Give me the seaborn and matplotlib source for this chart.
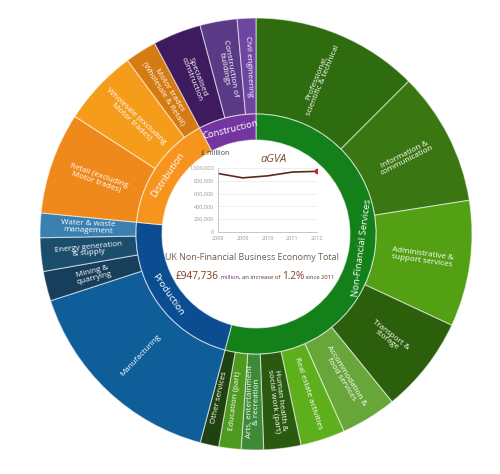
import numpy as np
import pandas as pd
import matplotlib
matplotlib.use("Agg")
import matplotlib.pyplot as plt
import seaborn as sns

sns.set_style("white")
plt.rcParams['font.family'] = ['Open Sans', 'DejaVu Sans']

# sector groups (inner ring), clockwise from 12 o'clock
groups = ["Non-Financial Services", "Production", "Distribution", "Construction"]
group_colors = ["#14801a", "#0b4d90", "#f7941e", "#7435a0"]

# industries (outer ring), aGVA in £ million
industries = [
    "Professional,\nscientific & technical", "Information &\ncommunication",
    "Administrative &\nsupport services", "Transport &\nstorage",
    "Accommodation &\nfood services", "Real estate activities",
    "Human health &\nsocial work (part)", "Arts, entertainment\n& recreation",
    "Education (part)", "Other services",
    "Manufacturing", "Mining &\nquarrying", "Energy generation\n& supply",
    "Water & waste\nmanagement",
    "Retail (excluding\nMotor trades)", "Wholesale (excluding\nMotor trades)",
    "Motor trades\n(Wholesale & Retail)",
    "Specialised\nconstruction", "Construction of\nbuildings", "Civil engineering",
]
industry_group = [0] * 10 + [1] * 4 + [2] * 3 + [3] * 3
industry_gva = [118500, 94800, 89500, 68400, 39500, 31600, 26300, 15800, 15800, 13200,
                150100, 21100, 23700, 17400,
                72100, 54000, 22400,
                34200, 26300, 13200]
industry_colors = ["#2f6b0f", "#3a7712", "#53a015", "#2c5f0c", "#68a63a", "#5eaf1c",
                   "#2a5a10", "#3e8a38", "#4e9a1e", "#1f4210",
                   "#0f5e9a", "#173f5b", "#1b4d6d", "#3a80b0",
                   "#f0891c", "#f59d1b", "#d67a12",
                   "#3d1b5e", "#5a3a86", "#6e46a2"]

# inset line chart
years = [2008, 2009, 2010, 2011, 2012]
agva_total = [914000, 846000, 877000, 936500, 947736]

W, H = 500, 474
cx, cy = 256, H - 234
R_OUT, R_MID, R_IN = 216, 120, 94

fig = plt.figure(figsize=(W / 100, H / 100), dpi=100)
ax = fig.add_axes([0, 0, 1, 1])

group_gva = pd.Series(industry_gva).groupby(industry_group).sum().values

edge = dict(edgecolor=(1, 1, 1, 0.55), linewidth=0.8)
outer, _ = ax.pie(industry_gva, colors=industry_colors, startangle=90, counterclock=False,
                  radius=R_OUT, center=(cx, cy), wedgeprops=dict(width=R_OUT - R_MID, **edge))
inner, _ = ax.pie(group_gva, colors=group_colors, startangle=90, counterclock=False,
                  radius=R_MID, center=(cx, cy), wedgeprops=dict(width=R_MID - R_IN, **edge))
ax.set_xlim(0, W)
ax.set_ylim(0, H)
ax.set_aspect("equal")
ax.set_axis_off()


def mid_angle(w):
    return ((w.theta1 + w.theta2) / 2) % 360


# radial labels on the outer ring
for w, lab in zip(outer, industries):
    a = mid_angle(w)
    r = (R_OUT + R_MID) / 2
    rot = a - 180 if 90 < a < 270 else a
    ax.text(cx + r * np.cos(np.radians(a)), cy + r * np.sin(np.radians(a)), lab,
            rotation=rot, rotation_mode="anchor", ha="center", va="center",
            color="white", fontsize=5.8, linespacing=0.9)

# tangential labels on the inner ring
for w, lab in zip(inner, groups):
    a = mid_angle(w)
    r = (R_MID + R_IN) / 2
    rot = a - 90
    if rot < -90:
        rot += 180
    elif rot > 90:
        rot -= 180
    ax.text(cx + r * np.cos(np.radians(a)), cy + r * np.sin(np.radians(a)), lab,
            rotation=rot, rotation_mode="anchor", ha="center", va="center",
            color="white", fontsize=6.8)

# inset line chart
ins = fig.add_axes([218 / W, 1 - 232 / H, 99 / W, 64 / H])
df = pd.DataFrame({"year": years, "agva": agva_total})
sns.lineplot(data=df, x="year", y="agva", ax=ins, color="#5b2a1c", linewidth=1.2)
ins.plot(years[-1], agva_total[-1], "o", color="#d0202a", markersize=3)
ins.set_xlim(2008, 2012)
ins.set_ylim(0, 1000000)
ins.set_xticks(years)
ins.set_yticks(range(0, 1000001, 200000))
ins.set_yticklabels([f"{v:,}" for v in range(0, 1000001, 200000)])
ins.tick_params(labelsize=4, colors="#999999", length=2, width=0.5, pad=1)
ins.grid(axis="y", color="#eeeeee", linewidth=0.6)
ins.set_xlabel("")
ins.set_ylabel("")
for s in ["top", "right"]:
    ins.spines[s].set_visible(False)
for s in ["left", "bottom"]:
    ins.spines[s].set_color("#bbbbbb")
    ins.spines[s].set_linewidth(0.6)
ins.patch.set_alpha(0)

ax.text(201, H - 153, "£ million", fontsize=5, color="#444444", ha="left", va="center")
ax.text(274, H - 159, "aGVA", fontsize=8, color="#7a4a2a", style="italic",
        ha="center", va="center")

ax.text(252, H - 258, "UK Non-Financial Business Economy Total", fontsize=6.4,
        color="#6d5f50", ha="center", va="center", zorder=5)

# summary line assembled from pieces, sharing one baseline
parts = [("£947,736", 7.2, "#7a3b1a"), (" million", 4.2, "#7a2a8a"),
         (", an increase of ", 4.2, "#553322"), ("1.2%", 7.2, "#7a3b1a"),
         (" since 2011", 4.2, "#553322")]
renderer = fig.canvas.get_renderer()
x = 176
for txt, fs, col in parts:
    t = ax.text(x, H - 279, txt, fontsize=fs, color=col, ha="left", va="baseline", zorder=5)
    bb = t.get_window_extent(renderer=renderer)
    x = ax.transData.inverted().transform((bb.x1, bb.y0))[0]

fig.savefig("out.png", dpi=100)
